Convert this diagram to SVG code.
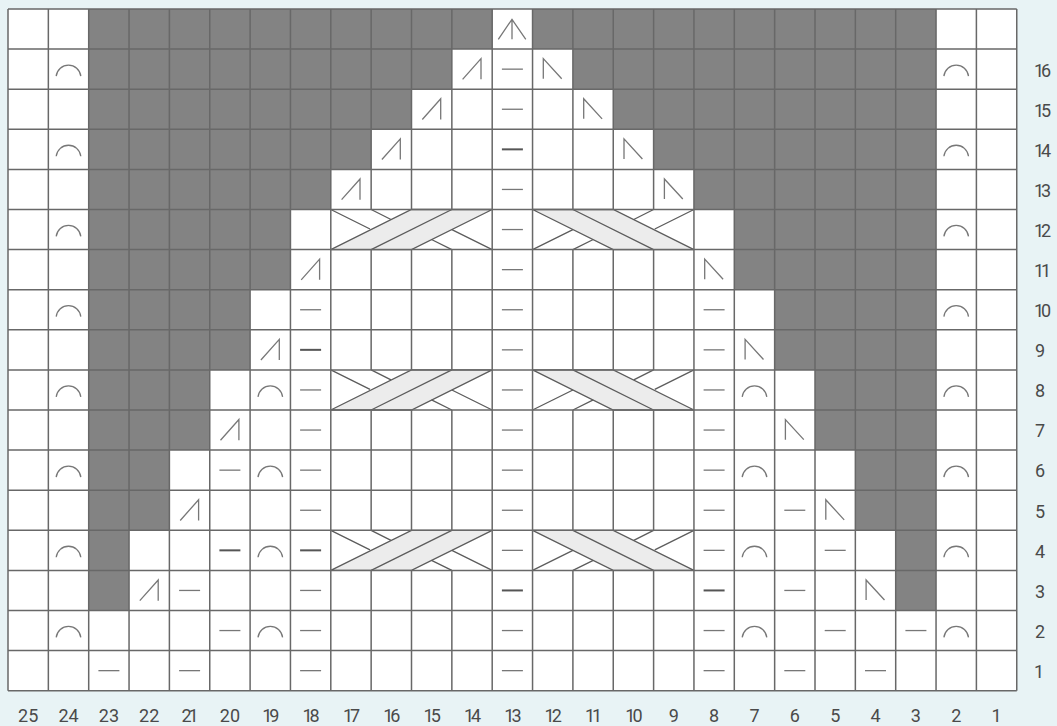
<svg xmlns="http://www.w3.org/2000/svg" width="1057" height="726" viewBox="0 0 1057 726">
<style>
.grid{stroke:#686868;stroke-width:1.5;fill:none}
.sym{stroke:#777;stroke-width:1.3;fill:none}
.dark{stroke:#555;stroke-width:2;fill:none}
.cl{stroke:#5c5c5c;stroke-width:1.3;fill:none}
.band{stroke:#5c5c5c;stroke-width:1.3;fill:#ececec}
text{font-family:"Roboto","Noto Sans",sans-serif;font-size:18px;fill:#4a4a4a;text-anchor:middle;dominant-baseline:central}
#row-labels text{text-anchor:start}
.t{letter-spacing:-3px}
</style>
<defs>
<path id="d" class="sym" d="M-10.5 0H10.5"/>
<path id="dd" class="dark" d="M-10.5 0H10.5"/>
<path id="a" class="sym" d="M-12.3 6.9A12.4 12.6 0 0 1 12.3 6.9"/>
<path id="l" class="sym" d="M-9.4 10.2L9 -10.5V10.2"/>
<path id="r" class="sym" d="M-9.4 9.6V-10.5L9 9.6"/>
<g id="cableL">
<path class="band" d="M330.8 249.6H411.5L492.2 209.5H411.5Z"/>
<path class="cl" d="M371.15 249.6L451.85 209.5M330.8 209.5L370 229M371.15 209.5L391 219.5M431.5 239.5L451.85 249.6M451.85 229.6L492.2 249.6"/>
</g>
<g id="cableR">
<path class="band" d="M693.95 249.6H613.25L532.55 209.5H613.25Z"/>
<path class="cl" d="M653.6 249.6L572.9 209.5M693.95 209.5L654.75 229M653.6 209.5L633.75 219.5M593.25 239.5L572.9 249.6M572.9 229.6L532.55 249.6"/>
</g>
</defs>
<rect width="1057" height="726" fill="#e8f3f5"/>
<rect x="8" y="9" width="1008.75" height="681.7" fill="#fff"/>
<g id="shaded" fill="#838383">
<path d="M88.7 9H492.2V49.1H451.85V89.2H411.5V129.3H371.15V169.4H330.8V209.5H290.45V289.7H250.1V369.9H209.75V450.1H169.4V530.3H129.05V610.5H88.7Z"/>
<path d="M532.55 9H936.05V610.5H895.7V530.3H855.35V450.1H815V369.9H774.65V289.7H734.3V209.5H693.95V169.4H653.6V129.3H613.25V89.2H572.9V49.1H532.55Z"/>
</g>
<g id="connectors">
<g id="cables">
<use href="#cableL"/><use href="#cableR"/>
<use href="#cableL" y="160.4"/><use href="#cableR" y="160.4"/>
<use href="#cableL" y="320.8"/><use href="#cableR" y="320.8"/>
</g>
<path id="grid" class="grid" d="M8 9H1016.75M8 49.1H1016.75M8 89.2H1016.75M8 129.3H1016.75M8 169.4H1016.75M8 209.5H1016.75M8 249.6H1016.75M8 289.7H1016.75M8 329.8H1016.75M8 369.9H1016.75M8 410H1016.75M8 450.1H1016.75M8 490.2H1016.75M8 530.3H1016.75M8 570.4H1016.75M8 610.5H1016.75M8 650.6H1016.75M8 690.7H1016.75
M8 9V690.7M48.35 9V690.7M88.7 9V690.7M129.05 9V690.7M169.4 9V690.7M209.75 9V690.7M250.1 9V690.7M290.45 9V690.7M330.8 9V690.7M492.2 9V690.7M532.55 9V690.7M693.95 9V690.7M734.3 9V690.7M774.65 9V690.7M815 9V690.7M855.35 9V690.7M895.7 9V690.7M936.05 9V690.7M976.4 9V690.7M1016.75 9V690.7
M371.15 9V209.5M371.15 249.6V369.9M371.15 410V530.3M371.15 570.4V690.7
M411.5 9V209.5M411.5 249.6V369.9M411.5 410V530.3M411.5 570.4V690.7
M451.85 9V209.5M451.85 249.6V369.9M451.85 410V530.3M451.85 570.4V690.7
M572.9 9V209.5M572.9 249.6V369.9M572.9 410V530.3M572.9 570.4V690.7
M613.25 9V209.5M613.25 249.6V369.9M613.25 410V530.3M613.25 570.4V690.7
M653.6 9V209.5M653.6 249.6V369.9M653.6 410V530.3M653.6 570.4V690.7"/>
</g>
<g id="symbols">
<path class="sym" d="M498.3 39.3L512 19.3L525.8 39.3M512 19.3V39.3"/>
<g id="arcs">
<use href="#a" x="68.5" y="69.15"/><use href="#a" x="68.5" y="149.35"/><use href="#a" x="68.5" y="229.55"/><use href="#a" x="68.5" y="309.75"/><use href="#a" x="68.5" y="389.95"/><use href="#a" x="68.5" y="470.15"/><use href="#a" x="68.5" y="550.35"/><use href="#a" x="68.5" y="630.55"/>
<use href="#a" x="956.2" y="69.15"/><use href="#a" x="956.2" y="149.35"/><use href="#a" x="956.2" y="229.55"/><use href="#a" x="956.2" y="309.75"/><use href="#a" x="956.2" y="389.95"/><use href="#a" x="956.2" y="470.15"/><use href="#a" x="956.2" y="550.35"/><use href="#a" x="956.2" y="630.55"/>
<use href="#a" x="270.3" y="389.95"/><use href="#a" x="270.3" y="470.15"/><use href="#a" x="270.3" y="550.35"/><use href="#a" x="270.3" y="630.55"/>
<use href="#a" x="754.5" y="389.95"/><use href="#a" x="754.5" y="470.15"/><use href="#a" x="754.5" y="550.35"/><use href="#a" x="754.5" y="630.55"/>
</g>
<g id="dashes">
<use href="#d" x="512.4" y="69.15"/><use href="#d" x="512.4" y="109.25"/><use href="#dd" x="512.4" y="149.35"/><use href="#d" x="512.4" y="189.45"/><use href="#d" x="512.4" y="229.55"/><use href="#d" x="512.4" y="269.65"/><use href="#d" x="512.4" y="309.75"/><use href="#d" x="512.4" y="349.85"/><use href="#d" x="512.4" y="389.95"/><use href="#d" x="512.4" y="430.05"/><use href="#d" x="512.4" y="470.15"/><use href="#d" x="512.4" y="510.25"/><use href="#d" x="512.4" y="550.35"/><use href="#dd" x="512.4" y="590.45"/><use href="#d" x="512.4" y="630.55"/><use href="#d" x="512.4" y="670.65"/>
<use href="#d" x="310.6" y="309.75"/><use href="#dd" x="310.6" y="349.85"/><use href="#d" x="310.6" y="389.95"/><use href="#d" x="310.6" y="430.05"/><use href="#d" x="310.6" y="470.15"/><use href="#d" x="310.6" y="510.25"/><use href="#dd" x="310.6" y="550.35"/><use href="#d" x="310.6" y="590.45"/><use href="#d" x="310.6" y="630.55"/><use href="#d" x="310.6" y="670.65"/>
<use href="#d" x="714.1" y="309.75"/><use href="#d" x="714.1" y="349.85"/><use href="#d" x="714.1" y="389.95"/><use href="#d" x="714.1" y="430.05"/><use href="#d" x="714.1" y="470.15"/><use href="#d" x="714.1" y="510.25"/><use href="#d" x="714.1" y="550.35"/><use href="#dd" x="714.1" y="590.45"/><use href="#d" x="714.1" y="630.55"/><use href="#d" x="714.1" y="670.65"/>
<use href="#d" x="229.9" y="470.15"/><use href="#dd" x="229.9" y="550.35"/><use href="#d" x="229.9" y="630.55"/>
<use href="#d" x="189.6" y="590.45"/><use href="#d" x="189.6" y="670.65"/>
<use href="#d" x="108.9" y="670.65"/>
<use href="#d" x="794.8" y="510.25"/><use href="#d" x="794.8" y="590.45"/><use href="#d" x="794.8" y="670.65"/>
<use href="#d" x="835.2" y="550.35"/><use href="#d" x="835.2" y="630.55"/>
<use href="#d" x="875.5" y="670.65"/>
<use href="#d" x="915.9" y="630.55"/>
</g>
<g id="decreases">
<use href="#l" x="472" y="69.15"/><use href="#l" x="431.7" y="109.25"/><use href="#l" x="391.3" y="149.35"/><use href="#l" x="351" y="189.45"/><use href="#l" x="310.6" y="269.65"/><use href="#l" x="270.3" y="349.85"/><use href="#l" x="229.9" y="430.05"/><use href="#l" x="189.6" y="510.25"/><use href="#l" x="149.2" y="590.45"/>
<use href="#r" x="552.7" y="69.15"/><use href="#r" x="593.1" y="109.25"/><use href="#r" x="633.4" y="149.35"/><use href="#r" x="673.8" y="189.45"/><use href="#r" x="714.1" y="269.65"/><use href="#r" x="754.5" y="349.85"/><use href="#r" x="794.8" y="430.05"/><use href="#r" x="835.2" y="510.25"/><use href="#r" x="875.5" y="590.45"/>
</g>
</g>
<g id="column-labels">
<text x="28.2" y="715">25</text><text x="68.5" y="715">24</text><text x="108.9" y="715">23</text><text x="149.2" y="715">22</text><text class="t" x="188.6" y="715">21</text><text x="229.9" y="715">20</text><text class="t" x="269.3" y="715">19</text><text class="t" x="309.6" y="715">18</text><text class="t" x="350" y="715">17</text><text class="t" x="390.3" y="715">16</text><text class="t" x="430.7" y="715">15</text><text class="t" x="471" y="715">14</text><text class="t" x="511.4" y="715">13</text><text class="t" x="551.7" y="715">12</text><text class="t" x="592.1" y="715">11</text><text class="t" x="632.4" y="715">10</text><text x="673.8" y="715">9</text><text x="714.1" y="715">8</text><text x="754.5" y="715">7</text><text x="794.8" y="715">6</text><text x="835.2" y="715">5</text><text x="875.5" y="715">4</text><text x="915.9" y="715">3</text><text x="956.2" y="715">2</text><text x="996.6" y="715">1</text>
</g>
<g id="row-labels">
<text class="t" x="1034" y="70.5">16</text><text class="t" x="1034" y="110.5">15</text><text class="t" x="1034" y="150.5">14</text><text class="t" x="1034" y="190.5">13</text><text class="t" x="1034" y="230.5">12</text><text class="t" x="1034" y="270.5">11</text><text class="t" x="1034" y="310.5">10</text><text x="1035" y="350.5">9</text><text x="1035" y="390.5">8</text><text x="1035" y="430.5">7</text><text x="1035" y="470.5">6</text><text x="1035" y="511">5</text><text x="1035" y="551">4</text><text x="1035" y="591">3</text><text x="1035" y="631">2</text><text x="1034" y="671">1</text>
</g>
</svg>
